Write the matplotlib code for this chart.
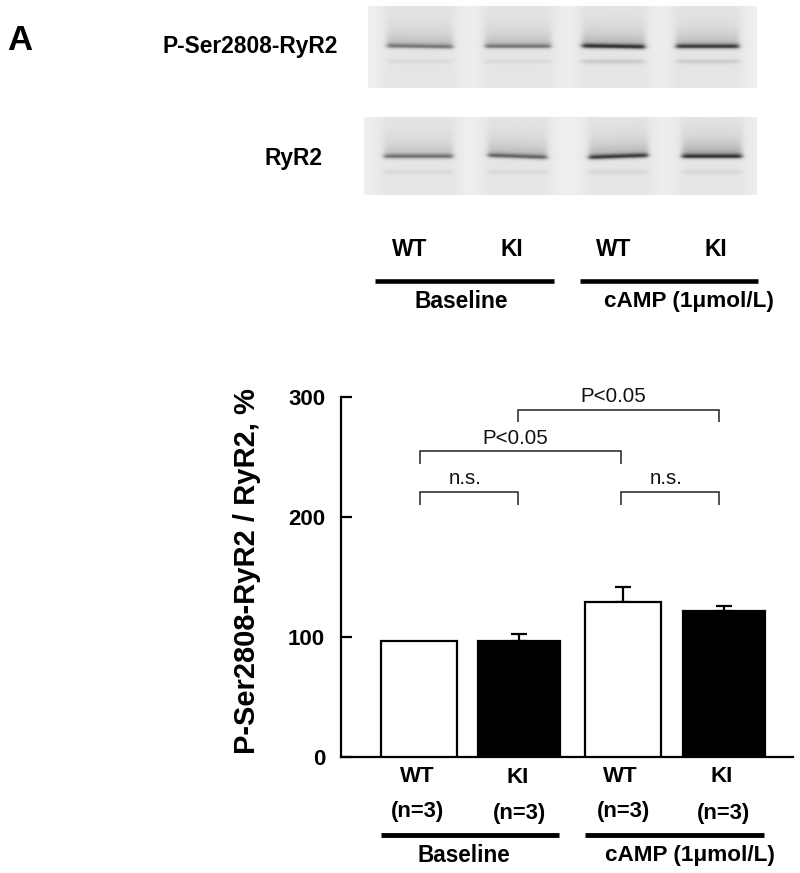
import numpy as np
import matplotlib
matplotlib.use("Agg")
import matplotlib.pyplot as plt

plt.rcParams['font.family'] = ['Liberation Sans', 'DejaVu Sans']

# ---- data ----
categories = ["WT", "KI", "WT", "KI"]
sample_sizes = ["(n=3)", "(n=3)", "(n=3)", "(n=3)"]
groups = ["Baseline", "cAMP (1\u03bcmol/L)"]
values = [97, 97, 129, 122]
errors = [0, 5.5, 13, 4]
bar_colors = ["white", "black", "white", "black"]
y_ticks = [0, 100, 200, 300]
y_label = "P-Ser2808-RyR2 / RyR2, %"
blot_labels = ["P-Ser2808-RyR2", "RyR2"]
# band darkness of each lane in the two blots
blot1_band = [65, 65, 125, 120]
blot1_smear = [55, 55, 68, 62]
blot1_lower = [10, 12, 26, 24]
blot2_band = [75, 80, 115, 110]
blot2_smear = [50, 60, 68, 85]
blot2_lower = [12, 12, 14, 14]

W, H = 800, 873
fig = plt.figure(figsize=(W / 100, H / 100), dpi=100)

# ---- overlay in pixel coordinates ----
ov = fig.add_axes([0, 0, 1, 1], zorder=3)
ov.set_xlim(0, W)
ov.set_ylim(H, 0)
ov.axis("off")
ov.patch.set_alpha(0)


def blot(x0, x1, y0, y1, lanes, band_y, low_y, band, smear, lower, tilt):
    xs = np.arange(x0, x1) + 0.5
    ys = np.arange(y0, y1) + 0.5
    X, Y = np.meshgrid(xs, ys)
    img = np.full(X.shape, 238.0)
    for (a, b), d_band, d_sm, d_low, t in zip(lanes, band, smear, lower, tilt):
        mask = 0.5 * (np.tanh((X - a) / 3.0) - np.tanh((X - b) / 3.0))
        wide = 0.5 * (np.tanh((X - a + 6) / 7.0) - np.tanh((X - b - 6) / 7.0))
        img -= 9 * wide
        u = (X - (a + b) / 2) / (b - a)
        by = band_y + t * u
        above = np.clip(by - Y, 0, None)
        img -= mask * d_sm * np.exp(-above / 12.0) * np.tanh(np.clip(by + 2 - Y, 0, None) / 2.0)
        img -= mask * d_band * np.exp(-((Y - by) / 2.6) ** 2)
        img -= mask * d_low * np.exp(-((Y - low_y) / 2.4) ** 2)
    ov.imshow(np.clip(img, 0, 255), cmap="gray", vmin=0, vmax=255,
              extent=(x0, x1, y1, y0), aspect="auto", interpolation="bilinear", zorder=1)


blot(368, 757, 6, 88, [(387, 453), (485, 551), (582, 645), (676, 739)], 46.5, 61.5,
     blot1_band, blot1_smear, blot1_lower, [1, 0, 1, 0])
blot(364, 757, 117, 195, [(384, 453), (488, 547), (589, 648), (682, 742)], 156.5, 172,
     blot2_band, blot2_smear, blot2_lower, [0, 2, -2, 0])
ov.set_xlim(0, W)
ov.set_ylim(H, 0)

ov.text(7, 40, "A", fontsize=25, fontweight="bold", ha="left", va="center")
ov.text(250, 46, blot_labels[0], fontsize=16.4, fontweight="bold", ha="center", va="center")
ov.text(293, 158, blot_labels[1], fontsize=16.4, fontweight="bold", ha="center", va="center")

for x, y, s in zip([410, 511.5, 614, 716], [249, 249, 249, 249], categories):
    ov.text(x, y, s, fontsize=16.4, fontweight="bold", ha="center", va="center")
ov.plot([375, 554], [281, 281], color="black", lw=3.3, solid_capstyle="butt")
ov.plot([580, 758], [281, 281], color="black", lw=3.3, solid_capstyle="butt")
ov.text(461, 302, groups[0], fontsize=16.4, fontweight="bold", ha="center", va="center")
ov.text(689, 302, groups[1], fontsize=16.2, fontweight="bold", ha="center", va="center")

# ---- bar chart ----
x_left, y_base, y_top = 340.5, 757, 397
ax = fig.add_axes([x_left / W, (H - y_base) / H, (W - x_left) / W, (y_base - y_top) / H], zorder=2)
ax.patch.set_alpha(0)
ax.set_xlim(x_left, W)
ax.set_ylim(0, 300)
lefts = [381, 478, 585, 683]
widths = [76, 82, 76, 82]
centers = [l + w / 2 for l, w in zip(lefts, widths)]
ax.bar(centers, values, width=widths, color=bar_colors, edgecolor="black", linewidth=1.6, zorder=3)
for c, v, e in zip(centers, values, errors):
    if e > 0:
        ax.errorbar(c, v, yerr=[[0], [e]], color="black", elinewidth=1.6, capsize=5.5,
                    capthick=1.6, zorder=2)
for s in ["top", "right"]:
    ax.spines[s].set_visible(False)
ax.spines["left"].set_linewidth(1.6)
ax.spines["bottom"].set_linewidth(1.6)
ax.spines["bottom"].set_bounds(x_left, 793)
ax.set_xticks([])
ax.set_yticks(y_ticks)
ax.tick_params(axis="y", direction="in", length=8, width=1.6, pad=11, labelsize=16)
for t in ax.get_yticklabels():
    t.set_fontweight("bold")
ax.set_ylabel(y_label, fontsize=21, fontweight="bold")
ax.yaxis.set_label_coords((261 - x_left) / (W - x_left), (y_base - 571) / (y_base - y_top))

# ---- brackets and labels ----
brackets = [((518, 719), 409.5, "P<0.05", 613, 397),
            ((420, 620.5), 451, "P<0.05", 515, 438),
            ((420, 518), 492, "n.s.", 465.5, 478),
            ((620.5, 719), 492, "n.s.", 666, 478)]
for (a, b), y, s, tx, ty in brackets:
    ov.plot([a, a, b, b], [y + 12.5, y, y, y + 12.5], color="#222222", lw=1.1,
            solid_joinstyle="miter", solid_capstyle="butt")
    ov.text(tx, ty, s, fontsize=14.8, ha="center", va="center", color="#111111")

for x, y, s in zip([417, 518, 620, 722], [776.5, 777.5, 776.5, 776.5], categories):
    ov.text(x, y, s, fontsize=16, fontweight="bold", ha="center", va="center")
for x, y, s in zip([418, 520, 624, 723], [812, 813, 812, 813], sample_sizes):
    ov.text(x, y, s, fontsize=15.8, fontweight="bold", ha="center", va="center")
ov.plot([381, 559], [834.5, 834.5], color="black", lw=3.5, solid_capstyle="butt")
ov.plot([585, 764], [834.5, 834.5], color="black", lw=3.5, solid_capstyle="butt")
ov.text(464, 855, groups[0], fontsize=16.3, fontweight="bold", ha="center", va="center")
ov.text(690, 855, groups[1], fontsize=16.2, fontweight="bold", ha="center", va="center")

fig.savefig("out.png", dpi=100)
